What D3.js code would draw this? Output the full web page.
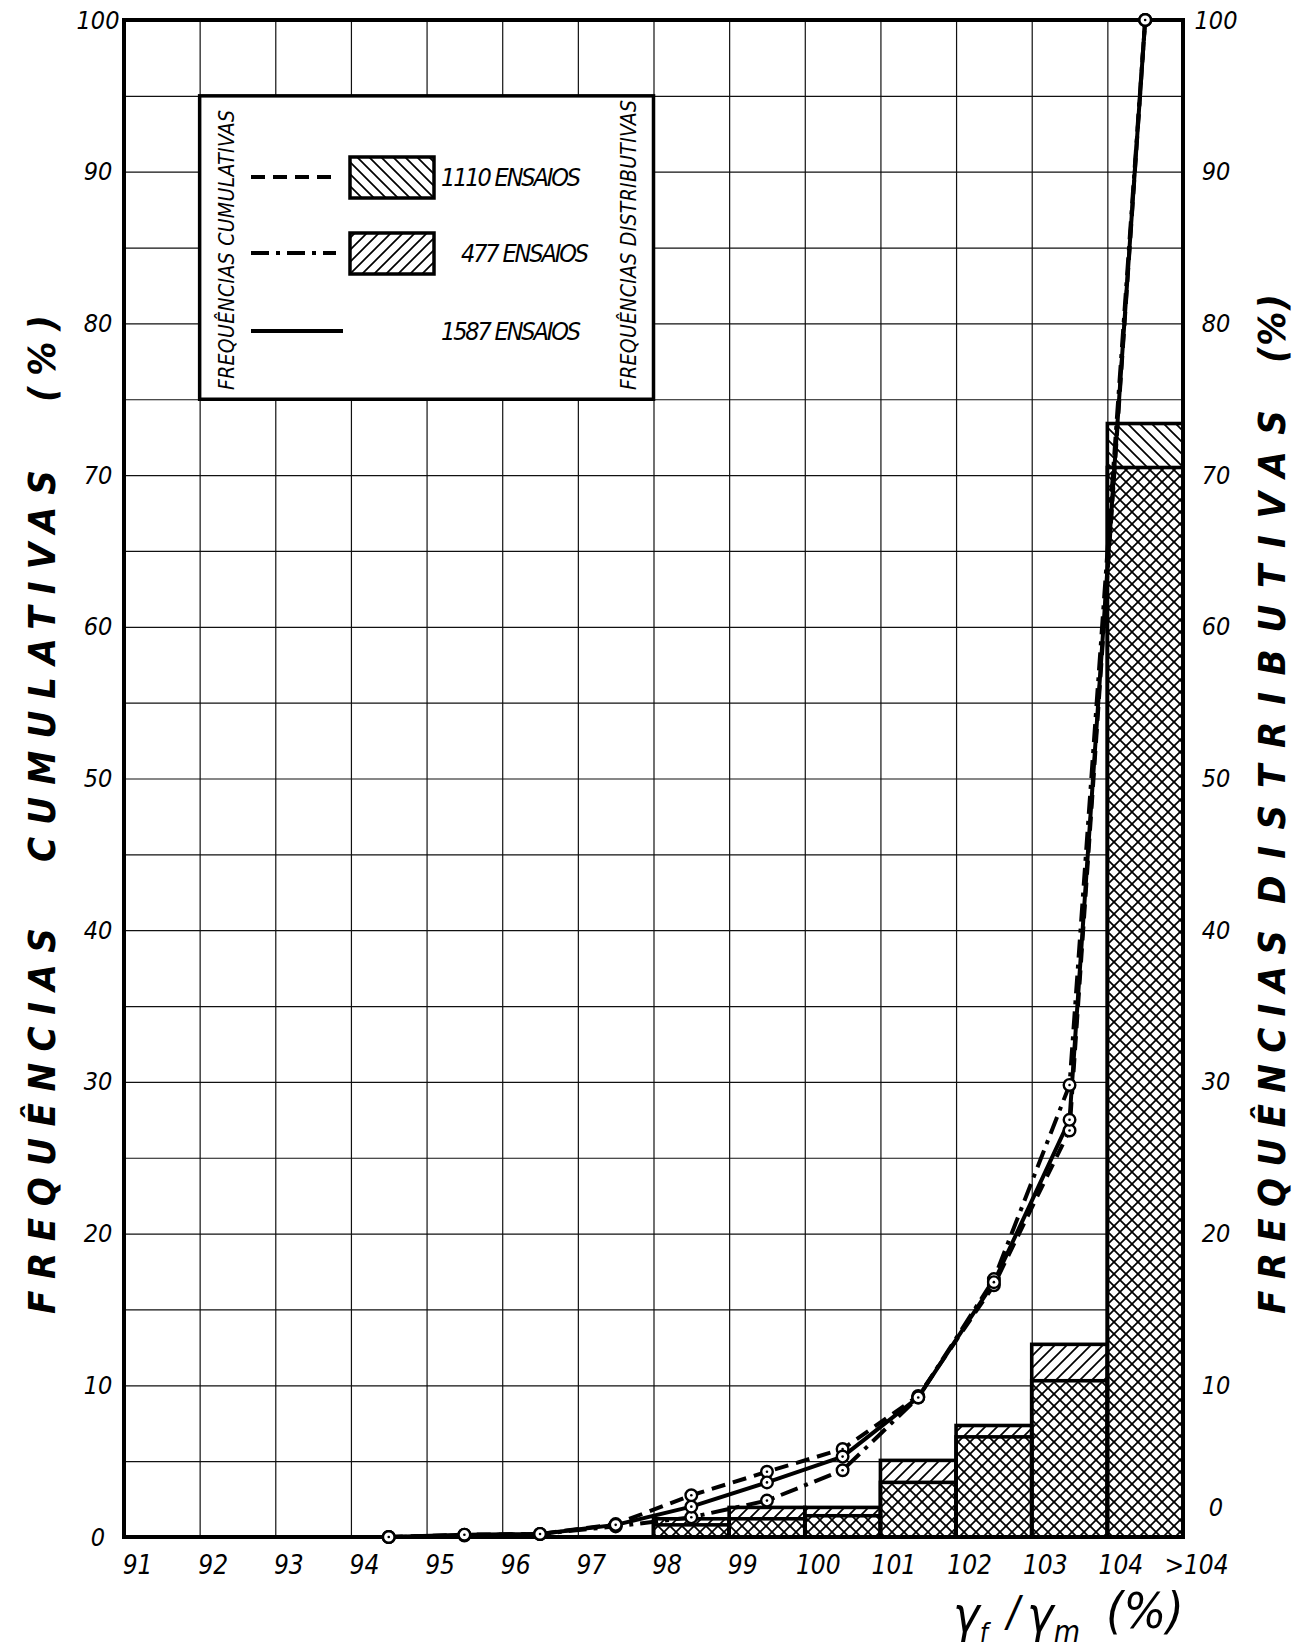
<!DOCTYPE html>
<html>
<head>
<meta charset="utf-8">
<script src="https://cdn.jsdelivr.net/npm/d3@7"></script>
<style>
    body { margin: 0; background: #fff; }
    #chart { width: 1306px; height: 1649px; }
    svg text {
        font-family: "Liberation Sans Narrow", "DejaVu Sans Condensed", "Liberation Sans", sans-serif;
        font-style: italic;
        fill: #000;
    }
</style>
</head>
<body>
<div id="chart"></div>
<script>
// ---- data ----
const xTicks = [91, 92, 93, 94, 95, 96, 97, 98, 99, 100, 101, 102, 103, 104, 105];
const xTickLabels = ["91", "92", "93", "94", "95", "96", "97", "98", "99", "100", "101", "102", "103", "104", ">104"];
const yTicks = [0, 10, 20, 30, 40, 50, 60, 70, 80, 90, 100];
const yGrid = [0, 5, 10, 15, 20, 25, 30, 35, 40, 45, 50, 55, 60, 65, 70, 75, 80, 85, 90, 95, 100];

// distributive frequencies (%) per class, class = [bin, bin+1)
const bins = [98, 99, 100, 101, 102, 103, 104];
const dist1110 = [0.8, 1.2, 1.4, 3.6, 6.6, 10.3, 73.4];
const dist477 = [1.2, 1.95, 1.95, 5.05, 7.35, 12.7, 70.5];

// cumulative frequencies (%) at class mid points
const cumX = [94.5, 95.5, 96.5, 97.5, 98.5, 99.5, 100.5, 101.5, 102.5, 103.5, 104.5];
const cum1110 = [0, 0.15, 0.2, 0.85, 2.75, 4.3, 5.8, 9.3, 16.6, 26.8, 100];
const cum477 = [0, 0.1, 0.2, 0.7, 1.3, 2.4, 4.4, 9.2, 17.0, 29.8, 100];
const cum1587 = [0, 0.15, 0.2, 0.8, 2.0, 3.6, 5.3, 9.2, 16.8, 27.5, 100];

const legendLabels = ["1110 ENSAIOS", "477 ENSAIOS", "1587 ENSAIOS"];

class FreqChart {

    constructor(parentElement) {
        this.parentElement = parentElement;
        this.margin = {top: 20, right: 123, bottom: 112, left: 124};
        this.initVis();
    }

    initVis() {
        let vis = this;

        vis.width = 1306 - vis.margin.left - vis.margin.right;
        vis.height = 1649 - vis.margin.top - vis.margin.bottom;

        let root = d3.select("#" + vis.parentElement).append("svg")
            .attr("width", 1306)
            .attr("height", 1649);

        // hatch patterns, one per series; where they overlap you get the cross hatch
        let defs = root.append("defs");
        defs.append("pattern")
            .attr("id", "h1110")
            .attr("patternUnits", "userSpaceOnUse")
            .attr("width", 12).attr("height", 12)
            .append("path")
            .attr("d", "M0,0L12,12M-3,9L3,15M9,-3L15,3")
            .attr("stroke", "#000").attr("stroke-width", 1.7);
        defs.append("pattern")
            .attr("id", "h477")
            .attr("patternUnits", "userSpaceOnUse")
            .attr("width", 12).attr("height", 12)
            .append("path")
            .attr("d", "M0,12L12,0M-3,3L3,-3M9,15L15,9")
            .attr("stroke", "#000").attr("stroke-width", 1.7);

        vis.svg = root.append("g")
            .attr("transform", "translate(" + vis.margin.left + "," + vis.margin.top + ")");

        vis.x = d3.scaleLinear().domain([91, 105]).range([0, vis.width]);
        vis.y = d3.scaleLinear().domain([0, 100]).range([vis.height, 0]);

        // grid
        vis.svg.append("g")
            .attr("transform", `translate(0,${vis.height})`)
            .call(d3.axisBottom(vis.x).tickValues(xTicks).tickSize(-vis.height).tickFormat(""))
            .call(g => g.select(".domain").remove())
            .call(g => g.selectAll("line").attr("stroke", "#111").attr("stroke-width", 1.2));
        vis.svg.append("g")
            .call(d3.axisLeft(vis.y).tickValues(yGrid).tickSize(-vis.width).tickFormat(""))
            .call(g => g.select(".domain").remove())
            .call(g => g.selectAll("line").attr("stroke", "#111").attr("stroke-width", 1.2));

        // tick labels
        vis.svg.append("g")
            .attr("transform", `translate(0,${vis.height})`)
            .call(d3.axisBottom(vis.x).tickValues(xTicks).tickSize(0).tickFormat((d, i) => xTickLabels[i]))
            .call(g => g.select(".domain").remove())
            .call(g => g.selectAll("text")
                .attr("x", 13).attr("y", 28).attr("dy", "0.35em")
                .attr("font-size", 26).attr("font-family", null));

        vis.svg.append("g")
            .call(d3.axisLeft(vis.y).tickValues(yTicks).tickSize(0))
            .call(g => g.select(".domain").remove())
            .call(g => g.selectAll("text")
                .attr("x", -26).attr("text-anchor", "middle")
                .attr("font-size", 25).attr("font-family", null));

        vis.svg.append("g")
            .attr("transform", `translate(${vis.width},0)`)
            .call(d3.axisRight(vis.y).tickValues(yTicks).tickSize(0))
            .call(g => g.select(".domain").remove())
            .call(g => g.selectAll("text")
                .attr("x", 33).attr("text-anchor", "middle")
                .attr("font-size", 25).attr("font-family", null))
            .call(g => g.selectAll(".tick").filter(d => d === 0).select("text").attr("y", -30));

        vis.drawLegend();
        vis.updateVis();
        vis.drawTitles();
    }

    drawLegend() {
        let vis = this;
        let lx0 = vis.x(92), lx1 = vis.x(98), ly0 = vis.y(95), ly1 = vis.y(75);
        let lg = vis.svg.append("g");

        lg.append("rect")
            .attr("x", lx0).attr("y", ly0)
            .attr("width", lx1 - lx0).attr("height", ly1 - ly0)
            .attr("fill", "#fff").attr("stroke", "#000").attr("stroke-width", 3.5);

        let rowY = [157, 233, 311];
        let dash = ["14,8", "18,7,4,7", null];
        let pats = ["url(#h1110)", "url(#h477)", null];
        let textX = [317, 337, 317];

        rowY.forEach((ry, i) => {
            lg.append("line")
                .attr("x1", 127).attr("x2", i === 2 ? 219 : 212)
                .attr("y1", ry).attr("y2", ry)
                .attr("stroke", "#000").attr("stroke-width", 4)
                .attr("stroke-dasharray", dash[i]);
            if (pats[i]) {
                lg.append("rect")
                    .attr("x", 226).attr("y", ry - 20)
                    .attr("width", 84).attr("height", 41)
                    .attr("fill", pats[i]).attr("stroke", "#000").attr("stroke-width", 3.5);
            }
            lg.append("text")
                .attr("x", textX[i]).attr("y", ry)
                .attr("dy", "0.35em")
                .attr("font-size", 25)
                .attr("textLength", i === 1 ? 128 : 140)
                .attr("lengthAdjust", "spacing")
                .text(legendLabels[i]);
        });

        vis.vText(lg, "FREQUÊNCIAS CUMULATIVAS", 103, 370, 90, 21, "normal");
        vis.vText(lg, "FREQUÊNCIAS DISTRIBUTIVAS", 505, 370, 80, 21, "normal");
    }

    vText(g, str, cx, yBottom, yTop, size, weight) {
        g.append("text")
            .attr("transform", `translate(${cx},${yBottom}) rotate(-90)`)
            .attr("dominant-baseline", "central")
            .attr("font-size", size)
            .attr("font-weight", weight)
            .attr("textLength", yBottom - yTop)
            .attr("lengthAdjust", "spacing")
            .text(str);
    }

    drawTitles() {
        let vis = this;
        let t = vis.svg.append("g");

        vis.vText(t, "FREQUÊNCIAS", -82, 1294, 908, 38, "bold");
        vis.vText(t, "CUMULATIVAS", -82, 842, 450, 38, "bold");
        vis.vText(t, "(%)", -82, 382, 295, 38, "bold");

        vis.vText(t, "FREQUÊNCIAS", vis.width + 89, 1294, 910, 38, "bold");
        vis.vText(t, "DISTRIBUTIVAS", vis.width + 89, 884, 390, 38, "bold");
        vis.vText(t, "(%)", vis.width + 89, 343, 274, 38, "bold");

        // x axis title  γf / γm (%)
        let xt = t.append("text").attr("font-size", 50);
        xt.append("tspan").attr("x", 829).attr("y", 1612).text("γ");
        xt.append("tspan").attr("font-size", 26).attr("y", 1622).text("f");
        xt.append("tspan").attr("font-size", 42).attr("x", 883).attr("y", 1606).text("/");
        xt.append("tspan").attr("x", 903).attr("y", 1612).text("γ");
        xt.append("tspan").attr("font-size", 30).attr("y", 1622).text("m");
        xt.append("tspan").attr("font-size", 50).attr("x", 982).attr("y", 1608).text("(%)");
    }

    updateVis() {
        let vis = this;

        // bars: white base, then 1110 and 477 hatched rects on top of each other
        let barData = bins.map((b, i) => ({b: b, v1110: dist1110[i], v477: dist477[i]}));
        let bg = vis.svg.append("g");

        bg.selectAll(".bar-bg")
            .data(barData)
            .join("rect")
            .attr("class", "bar-bg")
            .attr("x", d => vis.x(d.b))
            .attr("width", d => vis.x(d.b + 1) - vis.x(d.b))
            .attr("y", d => vis.y(Math.max(d.v1110, d.v477)))
            .attr("height", d => vis.height - vis.y(Math.max(d.v1110, d.v477)))
            .attr("fill", "#fff");

        [["v1110", "url(#h1110)"], ["v477", "url(#h477)"]].forEach(([key, pat]) => {
            bg.selectAll(".bar-" + key)
                .data(barData)
                .join("rect")
                .attr("class", "bar-" + key)
                .attr("x", d => vis.x(d.b))
                .attr("width", d => vis.x(d.b + 1) - vis.x(d.b))
                .attr("y", d => vis.y(d[key]))
                .attr("height", d => vis.height - vis.y(d[key]))
                .attr("fill", pat)
                .attr("stroke", "#000")
                .attr("stroke-width", 3.6);
        });

        // plot frame
        vis.svg.append("rect")
            .attr("width", vis.width).attr("height", vis.height)
            .attr("fill", "none").attr("stroke", "#000").attr("stroke-width", 4);

        // cumulative curves
        let series = [
            {vals: cum1110, dash: "14,8"},
            {vals: cum477, dash: "18,7,4,7"},
            {vals: cum1587, dash: null}
        ];
        let line = d3.line()
            .x((d, i) => vis.x(cumX[i]))
            .y(d => vis.y(d));

        series.forEach(s => {
            vis.svg.append("path")
                .datum(s.vals)
                .attr("d", line)
                .attr("fill", "none")
                .attr("stroke", "#000")
                .attr("stroke-width", 4)
                .attr("stroke-linejoin", "round")
                .attr("stroke-dasharray", s.dash);
        });

        series.forEach(s => {
            let pts = vis.svg.append("g").selectAll("g")
                .data(s.vals)
                .join("g")
                .attr("transform", (d, i) => `translate(${vis.x(cumX[i])},${vis.y(d)})`);
            pts.append("circle").attr("r", 5.8)
                .attr("fill", "#fff").attr("stroke", "#000").attr("stroke-width", 2.4);
            pts.append("circle").attr("r", 1.3).attr("fill", "#000");
        });
    }
}

new FreqChart("chart");
</script>
</body>
</html>
